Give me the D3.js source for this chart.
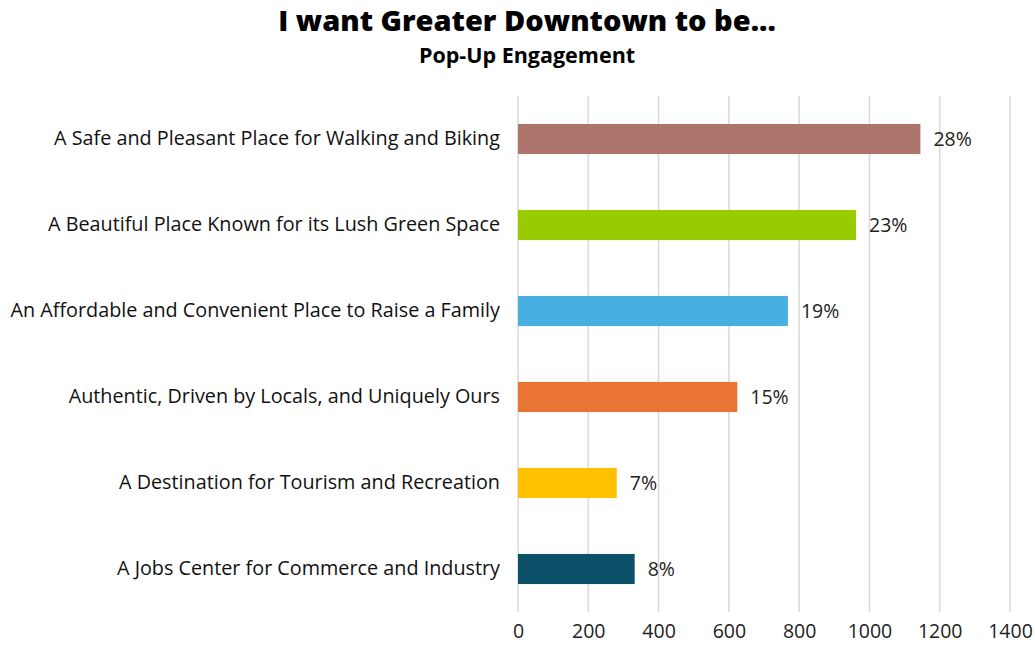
<!DOCTYPE html>
<html lang="en">
  <head>
    <title>I want Greater Downtown to be...</title>
    <script src="https://cdn.jsdelivr.net/npm/d3@7"></script>
    <style>
      body { margin: 0; background-color: white; }
      text { font-family: "Open Sans", Lato, sans-serif; }
    </style>
  </head>

  <body>
    <div id="container"></div>

<script>
    const categories = [
      "A Safe and Pleasant Place for Walking and Biking",
      "A Beautiful Place Known for its Lush Green Space",
      "An Affordable and Convenient Place to Raise a Family",
      "Authentic, Driven by Locals, and Uniquely Ours",
      "A Destination for Tourism and Recreation",
      "A Jobs Center for Commerce and Industry"
    ];
    const counts = [1145, 962, 768, 624, 281, 332];
    const percentLabels = ["28%", "23%", "19%", "15%", "7%", "8%"];
    const barColors = ["#AE756D", "#99CC00", "#48B0E0", "#EA7434", "#FFC000", "#0B4F69"];
    const xTicks = [0, 200, 400, 600, 800, 1000, 1200, 1400];

    const W = 1035, H = 646;
    const margin = {top: 96, right: 25, bottom: 34, left: 518};
    const width = W - margin.left - margin.right;
    const height = H - margin.top - margin.bottom;

    const root = d3.select("#container").append("svg")
      .attr("width", W)
      .attr("height", H);

    root.append("text")
      .attr("x", 527).attr("y", 31)
      .attr("text-anchor", "middle")
      .style("font-size", "29px").style("font-weight", "800")
      .text("I want Greater Downtown to be...");
    root.append("text")
      .attr("x", 527).attr("y", 63)
      .attr("text-anchor", "middle")
      .style("font-size", "21.5px").style("font-weight", "bold")
      .text("Pop-Up Engagement");

    const svg = root.append("g")
      .attr("transform", `translate(${margin.left}, ${margin.top})`);

    const x = d3.scaleLinear().domain([0, 1400]).range([0, 492]);
    const y = d3.scaleBand().domain(categories).range([0, height])
      .paddingInner(0.65).paddingOuter(0.325);

    // grid
    svg.append("g")
      .selectAll("line")
      .data(xTicks)
      .enter()
      .append("line")
      .attr("x1", d => x(d)).attr("x2", d => x(d))
      .attr("y1", 0).attr("y2", height)
      .attr("stroke", "#d9d9d9")
      .attr("stroke-width", 1.5);

    // x axis labels
    const xAxis = svg.append("g")
      .attr("transform", `translate(0, ${height})`)
      .call(d3.axisBottom(x).tickValues(xTicks).tickFormat(d3.format("d")).tickSize(0).tickPadding(12));
    xAxis.select(".domain").remove();
    xAxis.selectAll("text")
      .style("font-size", "19.5px")
      .style("font-family", "'Open Sans', sans-serif")
      .attr("fill", "#222");

    // y axis labels
    const yAxis = svg.append("g")
      .call(d3.axisLeft(y).tickSize(0).tickPadding(18));
    yAxis.select(".domain").remove();
    yAxis.selectAll("text")
      .style("font-size", "19.8px")
      .style("font-family", "'Open Sans', sans-serif")
      .attr("fill", "#111");

    svg.append("g")
      .selectAll("rect")
      .data(categories)
      .enter()
      .append("rect")
      .attr("x", 0)
      .attr("y", d => y(d))
      .attr("width", (d, i) => x(counts[i]))
      .attr("height", y.bandwidth())
      .attr("fill", (d, i) => barColors[i]);

    svg.append("g")
      .selectAll("text")
      .data(categories)
      .enter()
      .append("text")
      .attr("x", (d, i) => x(counts[i]) + 13)
      .attr("y", d => y(d) + y.bandwidth() / 2)
      .attr("dy", "0.35em")
      .style("font-size", "19.5px")
      .attr("fill", "#222")
      .text((d, i) => percentLabels[i]);
</script>
  </body>
</html>
